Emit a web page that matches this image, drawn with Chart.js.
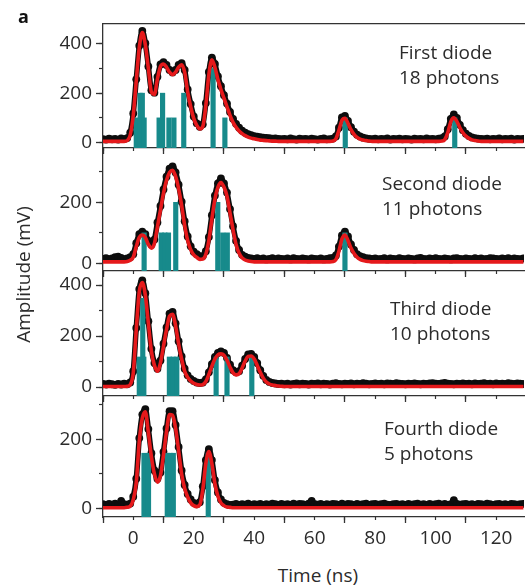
<!DOCTYPE html>
<html>
<head>
<meta charset="utf-8">
<script src="https://cdn.jsdelivr.net/npm/chart.js@4.4.1/dist/chart.umd.min.js"></script>
<style>
  html, body { margin: 0; padding: 0; background: #fff; overflow: hidden; }
  #wrap { position: relative; width: 528px; height: 587px; font-family: "Open Sans", sans-serif; color: #2b2b2b; }
  #wrap canvas { position: absolute; left: 0; }
  .note { position: absolute; font-size: 19px; line-height: 25px; white-space: nowrap; }
  #panelTag { position: absolute; left: 18px; top: 5px; font-size: 18px; font-weight: bold; line-height: 22px; color: #111; }
  #yTitle { position: absolute; left: -77px; top: 262px; width: 200px; text-align: center; font-size: 19px; line-height: 25px; transform: rotate(-90deg); }
  #xTitle { position: absolute; left: 218px; top: 563px; width: 200px; text-align: center; font-size: 19px; line-height: 25px; }
</style>
</head>
<body>
<div id="wrap">
  <canvas id="p1" width="528" height="156" style="top:8px"></canvas>
  <canvas id="p2" width="528" height="155" style="top:132px"></canvas>
  <canvas id="p3" width="528" height="157" style="top:255px"></canvas>
  <canvas id="p4" width="528" height="177" style="top:380px"></canvas>
  <div id="panelTag">a</div>
  <div id="yTitle">Amplitude (mV)</div>
  <div id="xTitle">Time (ns)</div>
  <div class="note" style="left:399px; top:40px">First diode<br>18 photons</div>
  <div class="note" style="left:382px; top:171px">Second diode<br>11 photons</div>
  <div class="note" style="left:390px; top:296px">Third diode<br>10 photons</div>
  <div class="note" style="left:384px; top:416px">Fourth diode<br>5 photons</div>
</div>
<script>
// sample times (ns), one row per 10 ns
const TIME = [
  -10, -9, -8, -7, -6, -5, -4, -3, -2, -1,
  0, 1, 2, 3, 4, 5, 6, 7, 8, 9,
  10, 11, 12, 13, 14, 15, 16, 17, 18, 19,
  20, 21, 22, 23, 24, 25, 26, 27, 28, 29,
  30, 31, 32, 33, 34, 35, 36, 37, 38, 39,
  40, 41, 42, 43, 44, 45, 46, 47, 48, 49,
  50, 51, 52, 53, 54, 55, 56, 57, 58, 59,
  60, 61, 62, 63, 64, 65, 66, 67, 68, 69,
  70, 71, 72, 73, 74, 75, 76, 77, 78, 79,
  80, 81, 82, 83, 84, 85, 86, 87, 88, 89,
  90, 91, 92, 93, 94, 95, 96, 97, 98, 99,
  100, 101, 102, 103, 104, 105, 106, 107, 108, 109,
  110, 111, 112, 113, 114, 115, 116, 117, 118, 119,
  120, 121, 122, 123, 124, 125, 126, 127, 128, 129
];

// axis ticks
const X_TICKS = [0, 20, 40, 60, 80, 100, 120];
const X_MINOR_TICKS = [-10, 0, 10, 20, 30, 40, 50, 60, 70, 80, 90, 100, 110, 120];
const Y_TICKS = [0, 200, 400];
const Y_MINOR_TICKS = [0, 100, 200, 300, 400];

// first diode: measured trace (mV) and fit
const DOTS_1 = [
  14, 12, 16, 13, 15, 12, 17, 14, 18, 40,
  118, 256, 392, 452, 402, 308, 212, 202, 266, 316,
  326, 314, 294, 284, 294, 314, 322, 294, 215, 156,
  106, 78, 64, 74, 160, 286, 344, 318, 268, 228,
  192, 158, 124, 96, 76, 60, 48, 40, 34, 30,
  26, 24, 22, 20, 19, 18, 16, 17, 15, 14,
  15, 13, 17, 14, 12, 16, 14, 15, 13, 16,
  14, 12, 15, 17, 13, 14, 16, 25, 60, 102,
  108, 88, 62, 44, 32, 25, 20, 17, 15, 14,
  16, 13, 15, 14, 17, 12, 15, 14, 16, 13,
  15, 14, 12, 16, 14, 15, 13, 17, 14, 15,
  13, 16, 18, 25, 54, 96, 114, 100, 72, 50,
  36, 27, 21, 18, 16, 15, 14, 16, 13, 15,
  14, 17, 13, 15, 14, 16, 12, 15, 14, 15
];
const FIT_1 = [
  5, 5, 5, 5, 5, 5, 5, 5, 8, 30,
  110, 250, 385, 445, 395, 300, 205, 195, 258, 308,
  318, 305, 285, 275, 285, 305, 315, 285, 205, 145,
  98, 70, 55, 65, 150, 275, 335, 305, 255, 215,
  180, 145, 110, 82, 62, 47, 36, 28, 22, 18,
  15, 12, 10, 9, 8, 7, 6, 6, 5, 5,
  5, 5, 5, 5, 5, 5, 5, 5, 5, 5,
  5, 5, 5, 5, 5, 5, 6, 15, 50, 90,
  98, 78, 52, 33, 21, 14, 10, 8, 6, 5,
  5, 5, 5, 5, 5, 5, 5, 5, 5, 5,
  5, 5, 5, 5, 5, 5, 5, 5, 5, 5,
  5, 5, 6, 12, 40, 85, 100, 86, 60, 40,
  26, 17, 11, 8, 6, 5, 5, 5, 5, 5,
  5, 5, 5, 5, 5, 5, 5, 5, 5, 5
];
const PHOTON_T_1 = [1.0, 2.3, 3.0, 3.6, 8.55, 9.7, 11.8, 13.45, 16.7, 26.4, 30.3, 70.1, 106.3];
const PHOTON_H_1 = [100, 200, 200, 100, 100, 200, 100, 100, 200, 300, 100, 100, 100];

// second diode
const DOTS_2 = [
  15, 17, 14, 16, 20, 22, 18, 14, 16, 20,
  30, 66, 96, 104, 96, 74, 62, 78, 134, 188,
  242, 284, 310, 318, 298, 258, 202, 138, 88, 56,
  38, 30, 24, 24, 40, 86, 158, 222, 262, 278,
  262, 232, 178, 122, 74, 44, 28, 22, 18, 16,
  15, 17, 14, 16, 13, 15, 17, 14, 16, 15,
  14, 16, 13, 17, 15, 14, 16, 15, 13, 16,
  15, 14, 16, 13, 15, 17, 18, 26, 55, 92,
  104, 88, 62, 44, 30, 24, 20, 17, 16, 15,
  16, 14, 15, 17, 13, 16, 15, 14, 17, 15,
  14, 16, 15, 13, 16, 18, 15, 14, 16, 15,
  17, 15, 14, 16, 15, 13, 16, 17, 15, 14,
  16, 15, 14, 17, 15, 16, 14, 15, 17, 16,
  15, 14, 16, 15, 17, 14, 16, 15, 14, 16
];
const FIT_2 = [
  5, 5, 5, 5, 5, 5, 5, 5, 6, 10,
  20, 55, 85, 93, 85, 62, 50, 65, 120, 175,
  230, 272, 298, 305, 285, 245, 190, 125, 75, 45,
  28, 20, 13, 14, 30, 75, 145, 210, 250, 265,
  250, 220, 165, 110, 62, 33, 18, 11, 8, 6,
  5, 5, 5, 5, 5, 5, 5, 5, 5, 5,
  5, 5, 5, 5, 5, 5, 5, 5, 5, 5,
  5, 5, 5, 5, 5, 5, 6, 12, 40, 80,
  93, 75, 50, 32, 20, 13, 9, 7, 6, 5,
  5, 5, 5, 5, 5, 5, 5, 5, 5, 5,
  5, 5, 5, 5, 5, 5, 5, 5, 5, 5,
  5, 5, 5, 5, 5, 5, 5, 5, 5, 5,
  5, 5, 5, 5, 5, 5, 5, 5, 5, 5,
  5, 5, 5, 5, 5, 5, 5, 5, 5, 5
];
const PHOTON_T_2 = [3.6, 9.25, 10.45, 11.65, 14.05, 27.95, 29.6, 31.1, 70.0];
const PHOTON_H_2 = [100, 100, 100, 100, 200, 200, 100, 100, 100];

// third diode
const DOTS_3 = [
  12, 10, 13, 11, 9, 12, 10, 13, 11, 18,
  62, 232, 384, 418, 368, 258, 150, 94, 72, 104,
  170, 234, 288, 295, 250, 180, 120, 72, 46, 32,
  24, 18, 16, 18, 30, 58, 90, 118, 134, 140,
  134, 114, 88, 66, 58, 62, 84, 110, 128, 130,
  118, 94, 66, 44, 28, 20, 16, 14, 12, 13,
  11, 13, 10, 12, 14, 11, 13, 12, 10, 13,
  12, 14, 11, 13, 12, 10, 13, 15, 12, 11,
  13, 12, 14, 11, 13, 12, 15, 13, 11, 12,
  14, 12, 13, 11, 14, 13, 12, 15, 13, 12,
  11, 13, 12, 14, 12, 11, 13, 12, 14, 15,
  13, 12, 14, 16, 13, 12, 11, 13, 12, 14,
  12, 13, 11, 14, 12, 13, 15, 12, 13, 11,
  14, 12, 13, 12, 15, 13, 12, 14, 13, 12
];
const FIT_3 = [
  2, 2, 2, 2, 2, 2, 2, 2, 3, 10,
  55, 225, 375, 410, 360, 250, 140, 85, 62, 95,
  160, 225, 278, 285, 240, 170, 110, 62, 38, 24,
  15, 10, 8, 10, 22, 50, 82, 110, 126, 130,
  125, 105, 78, 56, 48, 52, 75, 102, 120, 122,
  110, 85, 58, 35, 20, 12, 8, 6, 4, 3,
  2, 2, 2, 2, 2, 2, 2, 2, 2, 2,
  2, 2, 2, 2, 2, 2, 2, 2, 2, 2,
  2, 2, 2, 2, 2, 2, 2, 2, 2, 2,
  2, 2, 2, 2, 2, 2, 2, 2, 2, 2,
  2, 2, 2, 2, 2, 2, 2, 2, 2, 2,
  2, 2, 2, 2, 2, 2, 2, 2, 2, 2,
  2, 2, 2, 2, 2, 2, 2, 2, 2, 2,
  2, 2, 2, 2, 2, 2, 2, 2, 2, 2
];
const PHOTON_T_3 = [2.0, 3.15, 3.5, 11.95, 13.2, 14.4, 27.4, 31.0, 39.2];
const PHOTON_H_3 = [118, 348, 118, 118, 118, 118, 118, 118, 118];

// fourth diode
const DOTS_4 = [
  12, 10, 13, 11, 14, 10, 22, 12, 11, 14,
  34, 86, 204, 272, 288, 230, 160, 110, 86, 104,
  164, 232, 282, 282, 242, 178, 110, 68, 42, 26,
  16, 12, 18, 64, 140, 172, 140, 82, 46, 26,
  16, 12, 10, 11, 13, 10, 12, 11, 14, 10,
  12, 11, 13, 10, 12, 11, 14, 12, 10, 13,
  11, 12, 10, 14, 11, 13, 12, 10, 14, 22,
  12, 11, 13, 10, 12, 11, 13, 12, 10, 14,
  11, 13, 12, 10, 13, 11, 12, 14, 10, 12,
  13, 11, 12, 14, 11, 10, 12, 13, 11, 12,
  10, 13, 11, 12, 14, 11, 12, 10, 13, 11,
  12, 14, 11, 13, 10, 12, 24, 13, 11, 12,
  13, 11, 12, 10, 13, 12, 11, 14, 12, 10,
  12, 13, 11, 12, 10, 13, 12, 11, 12, 13
];
const FIT_4 = [
  2, 2, 2, 2, 2, 2, 2, 2, 3, 6,
  25, 75, 195, 262, 280, 220, 150, 100, 76, 95,
  155, 222, 272, 270, 232, 168, 100, 58, 33, 16,
  8, 5, 10, 55, 130, 165, 130, 72, 35, 16,
  8, 4, 3, 2, 2, 2, 2, 2, 2, 2,
  2, 2, 2, 2, 2, 2, 2, 2, 2, 2,
  2, 2, 2, 2, 2, 2, 2, 2, 2, 2,
  2, 2, 2, 2, 2, 2, 2, 2, 2, 2,
  2, 2, 2, 2, 2, 2, 2, 2, 2, 2,
  2, 2, 2, 2, 2, 2, 2, 2, 2, 2,
  2, 2, 2, 2, 2, 2, 2, 2, 2, 2,
  2, 2, 2, 2, 2, 2, 2, 2, 2, 2,
  2, 2, 2, 2, 2, 2, 2, 2, 2, 2,
  2, 2, 2, 2, 2, 2, 2, 2, 2, 2
];
const PHOTON_T_4 = [3.55, 5.05, 11.25, 12.25, 13.25, 24.8];
const PHOTON_H_4 = [160, 160, 160, 160, 160, 160];

const X_MIN = -10, X_MAX = 129.2;
const INK = '#2b2b2b';
const TICK_FONT = { family: 'Open Sans', size: 19 };

const panels = [
  { id: 'p1', dots: DOTS_1, fit: FIT_1, pt: PHOTON_T_1, ph: PHOTON_H_1, yMin: -22, yMax: 480, xh: 10, padB: 6, topLine: true, labels: false },
  { id: 'p2', dots: DOTS_2, fit: FIT_2, pt: PHOTON_T_2, ph: PHOTON_H_2, yMin: -25, yMax: 378, xh: 10, padB: 6, topLine: false, labels: false },
  { id: 'p3', dots: DOTS_3, fit: FIT_3, pt: PHOTON_T_3, ph: PHOTON_H_3, yMin: -35, yMax: 455, xh: 10, padB: 6, topLine: false, labels: false },
  { id: 'p4', dots: DOTS_4, fit: FIT_4, pt: PHOTON_T_4, ph: PHOTON_H_4, yMin: -25, yMax: 326, xh: 40, padB: 0, topLine: false, labels: true }
];

// fixed tick lists instead of auto generated ones
const useTicks = (list, lo, hi) => s => {
  s.ticks = list.filter(v => v >= lo && v <= hi).map(v => ({ value: v }));
};

function buildPanel(p) {
  const trace = TIME.map((t, i) => ({ x: t, y: p.dots[i] }));
  const fit = TIME.map((t, i) => ({ x: t, y: p.fit[i] }));
  // photon bars start at the bottom of the panel
  const bars = p.pt.map((t, i) => ({ x: t, y: [p.yMin, p.ph[i]] }));

  const scales = {
    x: {
      type: 'linear', position: 'bottom', min: X_MIN, max: X_MAX, weight: 1, offset: false,
      afterBuildTicks: useTicks(X_TICKS, X_MIN, X_MAX),
      ticks: { display: p.labels, color: INK, font: TICK_FONT, padding: 4, maxRotation: 0, autoSkip: false },
      grid: { drawOnChartArea: false, tickLength: 6, tickColor: '#333', tickWidth: 1.3 },
      border: { color: '#333', width: 1.3 },
      afterFit: s => { s.height = p.xh; }
    },
    xMinor: {
      type: 'linear', position: 'bottom', min: X_MIN, max: X_MAX, weight: 0, offset: false,
      afterBuildTicks: useTicks(X_MINOR_TICKS, X_MIN, X_MAX),
      ticks: { display: false },
      grid: { drawOnChartArea: false, tickLength: 3, tickColor: '#333', tickWidth: 1.2 },
      border: { display: false },
      afterFit: s => { s.height = 0; }
    },
    y: {
      type: 'linear', position: 'left', min: p.yMin, max: p.yMax, weight: 1,
      afterBuildTicks: useTicks(Y_TICKS, p.yMin, p.yMax),
      ticks: { color: INK, font: TICK_FONT, padding: 4 },
      grid: { drawOnChartArea: false, tickLength: 7, tickColor: '#333', tickWidth: 1.3 },
      border: { color: '#333', width: 1.3 },
      afterFit: s => { s.width = 103; }
    },
    yMinor: {
      type: 'linear', position: 'left', min: p.yMin, max: p.yMax, weight: 0,
      afterBuildTicks: useTicks(Y_MINOR_TICKS, p.yMin, p.yMax),
      ticks: { display: false },
      grid: { drawOnChartArea: false, tickLength: 4, tickColor: '#333', tickWidth: 1.2 },
      border: { display: false },
      afterFit: s => { s.width = 0; }
    }
  };
  if (p.topLine) {
    scales.xTop = {
      type: 'linear', position: 'top', min: X_MIN, max: X_MAX, offset: false,
      ticks: { display: false }, grid: { display: false },
      border: { color: '#333', width: 1.3 },
      afterFit: s => { s.height = 0; }
    };
  }

  new Chart(document.getElementById(p.id), {
    type: 'scatter',
    data: {
      datasets: [
        { type: 'line', data: fit, order: 0, borderColor: '#e5191b', borderWidth: 3.6,
          pointRadius: 0, cubicInterpolationMode: 'monotone', xAxisID: 'x', yAxisID: 'y' },
        { type: 'bar', data: bars, order: 1, backgroundColor: '#178a8b', barThickness: 4.5,
          grouped: false, borderWidth: 0, xAxisID: 'x', yAxisID: 'y' },
        { type: 'line', data: trace, order: 2, borderColor: '#0d0d0d', borderWidth: 5.5,
          pointRadius: 3.9, pointBackgroundColor: '#0d0d0d', pointBorderWidth: 0,
          cubicInterpolationMode: 'monotone', xAxisID: 'x', yAxisID: 'y' }
      ]
    },
    options: {
      responsive: false,
      animation: false,
      devicePixelRatio: 1,
      layout: { padding: { top: 16, bottom: p.padB, left: 0, right: 0 } },
      plugins: { legend: { display: false }, tooltip: { enabled: false } },
      scales: scales
    }
  });
}

panels.forEach(buildPanel);
</script>
</body>
</html>
